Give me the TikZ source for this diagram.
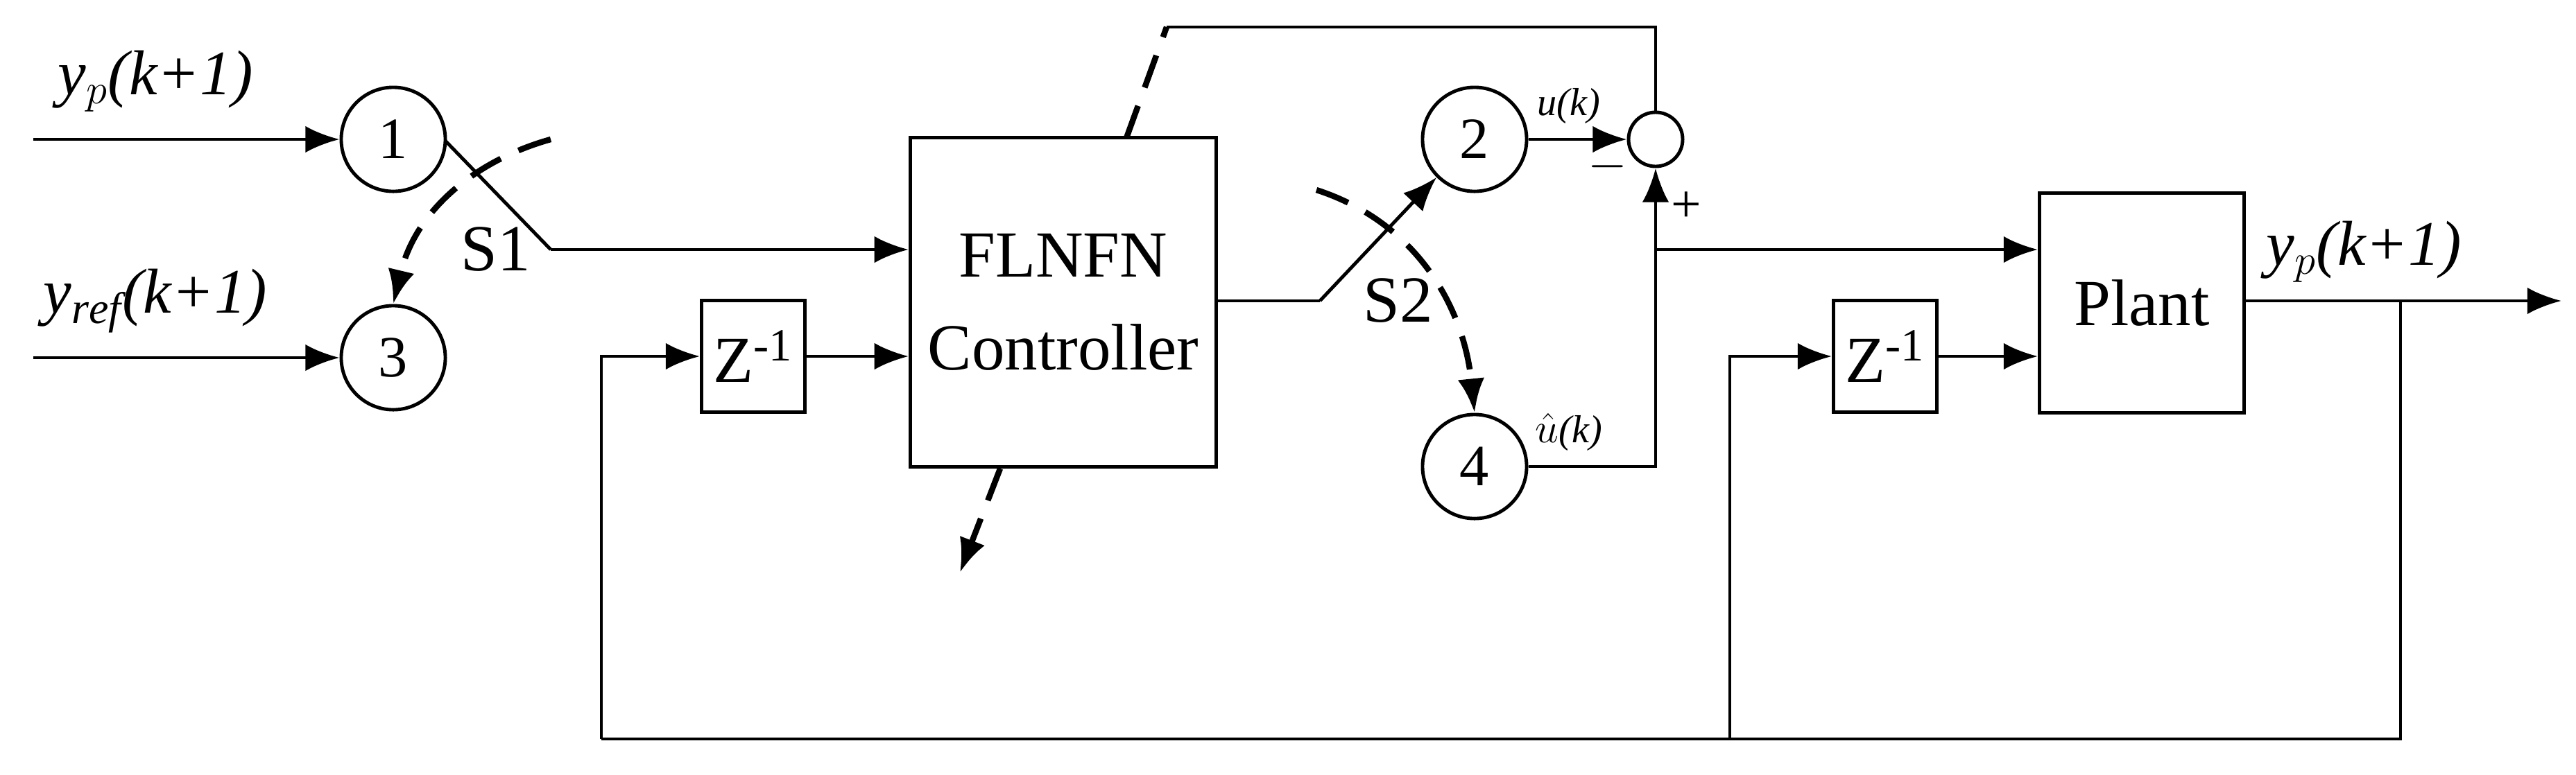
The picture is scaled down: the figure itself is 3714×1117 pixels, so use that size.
\documentclass[tikz,border=0pt]{standalone}
\usepackage{fontspec}
\setmainfont{Liberation Serif}
\usetikzlibrary{arrows.meta}
\begin{document}
\begin{tikzpicture}[x=0.01cm,y=-0.01cm,
  ln/.style={line width=1.4pt},
  arr/.style={ln,-{Latex[length=14pt,width=11pt]}},
  dsh/.style={line width=2.4pt,dash pattern=on 14pt off 8pt,-{Latex[length=14pt,width=11pt]}},
  circ/.style={draw,ln,circle,minimum size=1.5cm,inner sep=0pt,font=\fontsize{24}{28}\selectfont},
  blk/.style={draw,ln,inner sep=0pt,font=\fontsize{27}{32}\selectfont,align=center},
  lab/.style={font=\fontsize{26}{30}\selectfont\itshape}]
\useasboundingbox (0,0) rectangle (3714,1117);
% nodes
\node[circ] (c1) at (567,201) {1};
\node[circ] (c3) at (567,516) {3};
\node[circ] (c2) at (2126,201) {2};
\node[circ] (c4) at (2126,673) {4};
\node[draw,ln,circle,minimum size=0.78cm,inner sep=0pt] (sum) at (2387,201) {};
\node[blk,minimum width=4.41cm,minimum height=4.74cm] (ctl) at (1533,436) {FLNFN\\[6pt]Controller};
\node[blk,minimum width=1.49cm,minimum height=1.61cm] (z1) at (1086,514) {Z\textsuperscript{-1}};
\node[blk,minimum width=1.49cm,minimum height=1.61cm] (z2) at (2718,514) {Z\textsuperscript{-1}};
\node[blk,minimum width=2.95cm,minimum height=3.16cm] (pl) at (3088,437) {Plant};
\coordinate (in1) at (48,201);
\coordinate (in3) at (48,516);
\coordinate (s1a) at (642,203);
\coordinate (s1b) at (794,360);
\coordinate (s2a) at (1903,434);
\coordinate (out) at (3693,434);
\coordinate (fbr) at (3461,434);
\coordinate (fbl) at (867,1066);
\coordinate (fbm) at (2494,1066);
\coordinate (jn) at (2387,360);
% labels
\node[lab] (l1) at (224,117) {y$_p$(k+1)};
\node[lab] (l3) at (224,434) {y$_{\mathit{ref}}$(k+1)};
\node[lab] (l5) at (3408,363) {y$_p$(k+1)};
\node[font=\fontsize{27}{32}\selectfont] (s1) at (715,360) {S1};
\node[font=\fontsize{27}{32}\selectfont] (s2) at (2016,434) {S2};
\node[font=\fontsize{16}{20}\selectfont\itshape] (u) at (2262,153) {u(k)};
\node[font=\fontsize{16}{20}\selectfont\itshape] (uh) at (2262,623) {$\hat{u}$(k)};
\node[font=\fontsize{22}{26}\selectfont] (mi) at (2318,240) {$-$};
\node[font=\fontsize{22}{26}\selectfont] (pl2) at (2431,299) {+};
% connectors
\draw[arr] (in1) -- (c1);
\draw[arr] (in3) -- (c3);
\draw[ln] (s1a) -- (s1b);
\draw[arr] (s1b) -- (s1b -| ctl.west);
\draw[arr] (z1) -- (z1 -| ctl.west);
\draw[arr] (fbl) -- (867,514) -- (z1);
\draw[ln] (ctl.east |- s2a) -- (s2a);
\draw[arr] (s2a) -- (c2.south west);
\draw[arr] (c2) -- (sum);
\draw[ln] (1682,39) -- (2387,39) -- (sum.north);
\draw[ln] (c4) -- (2387,673) -- (jn);
\draw[arr] (jn) -- (sum.south);
\draw[arr] (jn) -- (jn -| pl.west);
\draw[arr] (pl.east |- out) -- (out);
\draw[ln] (fbr) -- (3461,1066) -- (fbl);
\draw[arr] (fbm) -- (2494,514) -- (z2);
\draw[arr] (z2) -- (z2 -| pl.west);
% dashed switch arrows
\draw[dsh] (794,201) .. controls (690,230) and (600,300) .. (c3.north);
\draw[dsh] (1898,274) .. controls (2040,320) and (2110,440) .. (c4.north);
\draw[dsh,-] (1624,199) -- (1682,39);
\draw[dsh] (1442,676) -- (1384,826);
\end{tikzpicture}
\end{document}
